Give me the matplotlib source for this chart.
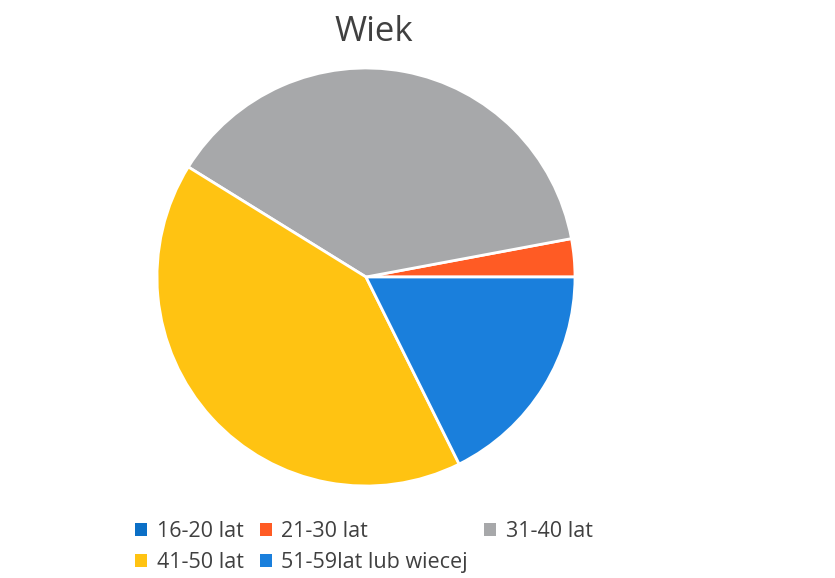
import matplotlib
matplotlib.use("Agg")
import matplotlib.pyplot as plt
from matplotlib.patches import Patch

plt.rcParams['font.family'] = ['Open Sans', 'DejaVu Sans']

labels = ['16-20 lat', '21-30 lat', '31-40 lat', '41-50 lat', '51-59lat lub wiecej']
counts = [0, 1, 13, 14, 6]
colors = ['#0B6FC6', '#FF5B24', '#A7A8AA', '#FFC312', '#1A7FDC']

fig = plt.figure(figsize=(8.35, 5.78), dpi=100)

# pie axes, square, centred where the reference pie sits
cx, cy, r = 366, 277, 209
ax = fig.add_axes([(cx - r) / 835, (578 - cy - r) / 578, 2 * r / 835, 2 * r / 578])
vals = [v for v in counts if v > 0]
cols = [c for v, c in zip(counts, colors) if v > 0]
ax.pie(vals, colors=cols, startangle=0, counterclock=True, radius=1,
       wedgeprops=dict(edgecolor='white', linewidth=2))
ax.set_xlim(-1.0, 1.0)
ax.set_ylim(-1.0, 1.0)
ax.set_aspect('equal')
ax.axis('off')

fig.text(374 / 835, 1 - 32 / 578, 'Wiek', ha='center', va='center',
         fontsize=25, color='#404040')

# legend laid out column-wise like the original
order = [0, 3, 1, 4, 2]
handles = [Patch(facecolor=colors[i], edgecolor='none') for i in order]
leg = fig.legend(handles, [labels[i] for i in order], ncol=3,
                 loc='upper left', bbox_to_anchor=(116 / 835, 1 - 502 / 578),
                 frameon=False, fontsize=15.5, handlelength=0.55, handleheight=0.55,
                 handletextpad=0.45, columnspacing=0.75, labelspacing=0.45)
for t in leg.get_texts():
    t.set_color('#404040')

fig.savefig('out.png', dpi=100)
